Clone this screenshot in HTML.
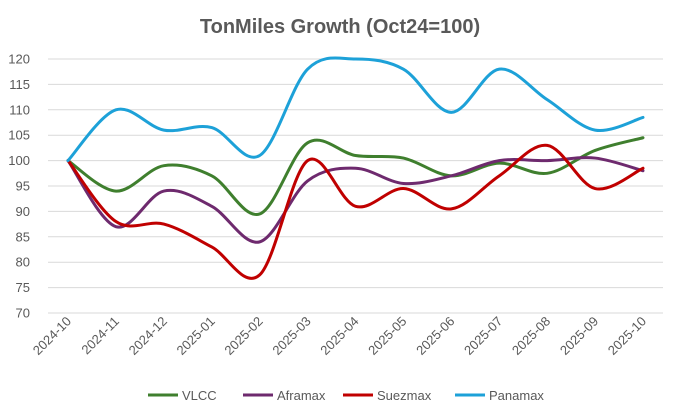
<!DOCTYPE html>
<html><head><meta charset="utf-8"><style>
body{margin:0;background:#fff;font-family:"Liberation Sans",sans-serif}
svg{display:block}
</style></head><body>
<svg id="chart" width="673" height="414">
<text x="340" y="33" text-anchor="middle" font-size="20" font-weight="bold" fill="#595959">TonMiles Growth (Oct24=100)</text>
<g id="grid"></g><g id="xl"></g><g id="yl"></g><g id="lines"></g><g id="legend"></g>
</svg>
<script>
const categories=["2024-10","2024-11","2024-12","2025-01","2025-02","2025-03","2025-04","2025-05","2025-06","2025-07","2025-08","2025-09","2025-10"];
const vlcc=[100,94,99,97,89.5,103.5,101,100.5,97,99.5,97.5,102,104.5];
const aframax=[100,87,94,91,84,96,98.5,95.5,97,100,100,100.5,98];
const suezmax=[100,88,87.5,83,77.5,100,91,94.5,90.5,97,103,94.5,98.5];
const panamax=[100,110,106,106.5,101,118,120,118,109.5,118,112,106,108.5];
const yTicks=[70,75,80,85,90,95,100,105,110,115,120];
const seriesNames=["VLCC","Aframax","Suezmax","Panamax"];
const seriesColors=["#3f7f2e","#6e2a6e","#c00000","#1da1d8"];
const ns="http://www.w3.org/2000/svg";
const X0=68,X1=643,Y0=313,Y1=59;
const xs=i=>X0+(X1-X0)*i/(categories.length-1);
const ys=v=>Y0-(v-70)/(120-70)*(Y0-Y1);
function mk(t,a,p){const e=document.createElementNS(ns,t);for(const k in a)e.setAttribute(k,a[k]);p.appendChild(e);return e;}
const grid=document.getElementById('grid'),yl=document.getElementById('yl'),xl=document.getElementById('xl');
yTicks.forEach(v=>{
 const l=mk('line',{x1:X0-20,x2:X1+20,y1:ys(v),y2:ys(v),stroke:'#d9d9d9','stroke-width':1},grid);
 
 
 const t=mk('text',{x:30,y:ys(v)+4.5,'text-anchor':'end','font-size':13,fill:'#595959'},yl);
 t.textContent=v;
 
 
});
categories.forEach((c,i)=>{
 const t=mk('text',{x:xs(i)+4,y:322,'text-anchor':'end','font-size':13,fill:'#595959',transform:`rotate(-45 ${xs(i)+4} 322)`},xl);
 t.textContent=c;
 
 
});
function path(vals){
 const p=vals.map((v,i)=>[xs(i),ys(v)]);let d=`M${p[0][0]},${p[0][1]}`;
 for(let i=0;i<p.length-1;i++){
  const a=p[Math.max(0,i-1)],b=p[i],c=p[i+1],e=p[Math.min(p.length-1,i+2)];
  const t=1/6;
  d+=` C${b[0]+(c[0]-a[0])*t},${b[1]+(c[1]-a[1])*t} ${c[0]-(e[0]-b[0])*t},${c[1]-(e[1]-b[1])*t} ${c[0]},${c[1]}`;
 }
 return d;
}
const data=[vlcc,aframax,suezmax,panamax];
const lines=document.getElementById('lines');
data.forEach((s,k)=>{
 const p=mk('path',{d:path(s),fill:'none',stroke:seriesColors[k],'stroke-width':3,'stroke-linecap':'round'},lines);
 
 
});
const lg=document.getElementById('legend');
const lx=[148,243,343,455];
seriesNames.forEach((n,k)=>{
 const g=mk('g',{},lg);
 
 
 mk('line',{x1:lx[k],x2:lx[k]+30,y1:395,y2:395,stroke:seriesColors[k],'stroke-width':3},g);
 const t=mk('text',{x:lx[k]+34,y:400,'font-size':13,fill:'#595959'},g);t.textContent=n;
});
</script>
</body></html>
